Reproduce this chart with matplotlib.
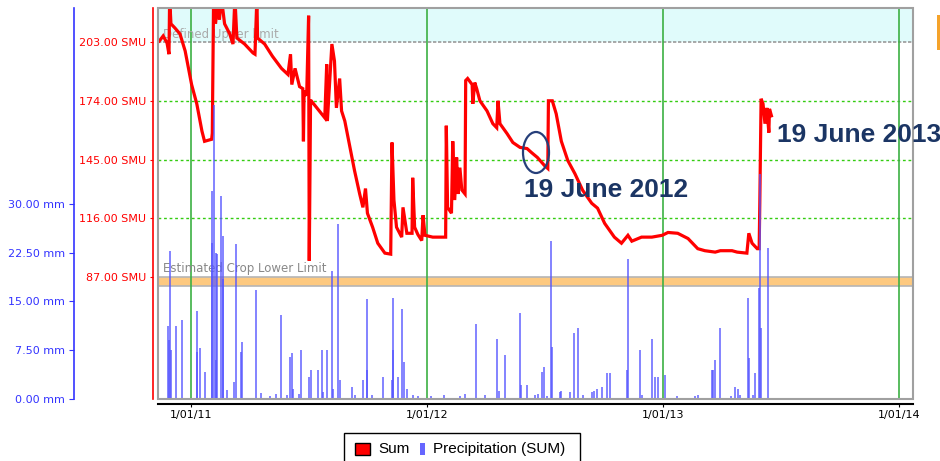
import numpy as np
import matplotlib
matplotlib.use('Agg')
import matplotlib.pyplot as plt
import matplotlib.patches as patches

# soil moisture sum (SMU)
smu_dates = ['2010-11-13', '2010-11-19', '2010-11-25', '2010-11-28', '2010-11-29', '2010-12-01',
             '2010-12-07', '2010-12-15', '2010-12-23', '2011-01-02', '2011-01-10', '2011-01-18',
             '2011-01-22', '2011-02-02', '2011-02-03', '2011-02-05', '2011-02-08', '2011-02-11',
             '2011-02-14', '2011-02-17', '2011-02-22', '2011-03-02', '2011-03-07', '2011-03-10',
             '2011-03-13', '2011-03-25', '2011-04-07', '2011-04-10', '2011-04-13', '2011-04-14',
             '2011-04-25', '2011-05-07', '2011-05-21', '2011-05-31', '2011-06-04', '2011-06-06',
             '2011-06-11', '2011-06-18', '2011-06-23', '2011-06-24', '2011-06-25', '2011-06-29',
             '2011-07-02', '2011-07-03', '2011-07-05', '2011-07-06', '2011-07-22', '2011-07-27',
             '2011-07-30', '2011-07-31', '2011-08-07', '2011-08-11', '2011-08-14', '2011-08-19',
             '2011-08-22', '2011-08-27', '2011-09-04', '2011-09-11', '2011-09-19', '2011-09-24',
             '2011-09-28', '2011-10-01', '2011-10-09', '2011-10-17', '2011-10-28', '2011-11-06',
             '2011-11-08', '2011-11-11', '2011-11-15', '2011-11-23', '2011-11-25', '2011-12-01',
             '2011-12-09', '2011-12-10', '2011-12-13', '2011-12-18', '2011-12-24', '2011-12-26',
             '2011-12-29', '2012-01-10', '2012-01-30', '2012-01-31', '2012-02-02', '2012-02-08',
             '2012-02-10', '2012-02-13', '2012-02-16', '2012-02-18', '2012-02-21', '2012-02-24',
             '2012-02-29', '2012-03-01', '2012-03-04', '2012-03-11', '2012-03-12', '2012-03-15',
             '2012-03-18', '2012-03-23', '2012-04-03', '2012-04-12', '2012-04-18', '2012-04-20',
             '2012-04-23', '2012-05-04', '2012-05-13', '2012-05-24', '2012-06-04', '2012-06-11',
             '2012-06-20', '2012-07-01', '2012-07-06', '2012-07-07', '2012-07-13', '2012-07-19',
             '2012-07-27', '2012-08-06', '2012-08-17', '2012-08-29', '2012-09-12', '2012-09-21',
             '2012-10-02', '2012-10-17', '2012-10-28', '2012-11-07', '2012-11-13', '2012-11-28',
             '2012-12-14', '2012-12-30', '2013-01-08', '2013-01-23', '2013-02-08', '2013-02-23',
             '2013-03-06', '2013-03-22', '2013-03-30', '2013-04-17', '2013-04-25', '2013-05-10',
             '2013-05-13', '2013-05-18', '2013-05-26', '2013-05-29', '2013-05-30', '2013-06-01',
             '2013-06-04', '2013-06-07', '2013-06-10', '2013-06-13', '2013-06-14', '2013-06-17']
smu_values = [203.5, 206, 202.5, 197, 225, 212,
              210, 207, 198.6, 182, 172.5, 159,
              154, 155, 158, 225, 212, 222,
              214, 225, 212, 207, 202, 225,
              205, 202, 197.6, 197, 225, 205,
              202, 196, 190, 187, 197, 182,
              190, 181, 180, 154, 179, 176.5,
              216, 95, 174, 174, 167.6, 165.6,
              192, 164, 202, 193.6, 170.5, 185,
              169, 164, 151, 139.6, 128, 121.4,
              130.7, 118.5, 111.6, 103.7, 98.8, 98.3,
              153.4, 125, 111.6, 106.7, 121.4, 108.6,
              108.6, 136, 111.6, 108, 105, 117.5,
              107.6, 106.7, 106.7, 161.7, 121.4, 118.5,
              154, 125, 146, 128, 141, 130,
              128, 184, 185, 182, 172.5, 183,
              180, 174, 169, 162.7, 160.7, 174,
              162.7, 157.8, 153.4, 151, 150.4, 148.4,
              146, 142, 140.6, 174, 174, 167.6,
              154, 144.5, 138, 129.8, 123.4, 121,
              113.5, 106.7, 103.7, 107.6, 104.7, 106.7,
              106.7, 107.6, 109, 108.6, 106, 101,
              100, 99.3, 100, 100, 99.3, 98.8,
              108.6, 103.7, 101, 101, 123.4, 175,
              172.5, 162.7, 170.5, 158.3, 170, 166.6]

# daily precipitation (mm)
rain_dates = ['2010-11-27', '2010-11-28', '2010-11-30', '2010-12-01', '2010-12-09', '2010-12-18',
              '2011-01-10', '2011-01-11', '2011-01-15', '2011-01-22', '2011-02-02', '2011-02-03',
              '2011-02-06', '2011-02-08', '2011-02-09', '2011-02-11', '2011-02-16', '2011-02-19',
              '2011-02-20', '2011-02-26', '2011-03-08', '2011-03-11', '2011-03-20', '2011-03-21',
              '2011-04-11', '2011-04-19', '2011-05-03', '2011-05-12', '2011-05-21', '2011-05-29',
              '2011-06-03', '2011-06-06', '2011-06-08', '2011-06-17', '2011-06-20', '2011-07-02',
              '2011-07-05', '2011-07-16', '2011-07-22', '2011-07-24', '2011-07-31', '2011-08-07',
              '2011-08-08', '2011-08-16', '2011-08-19', '2011-09-07', '2011-09-11', '2011-09-24',
              '2011-09-30', '2011-10-01', '2011-10-08', '2011-10-25', '2011-11-08', '2011-11-09',
              '2011-11-10', '2011-11-18', '2011-11-23', '2011-11-26', '2011-12-01', '2011-12-10',
              '2011-12-18', '2012-01-08', '2012-01-28', '2012-02-21', '2012-02-29', '2012-03-17',
              '2012-03-31', '2012-04-18', '2012-04-21', '2012-05-01', '2012-05-24', '2012-05-26',
              '2012-06-04', '2012-06-16', '2012-06-21', '2012-06-27', '2012-06-30', '2012-07-05',
              '2012-07-11', '2012-07-12', '2012-07-25', '2012-07-27', '2012-08-09', '2012-08-15',
              '2012-08-21', '2012-08-29', '2012-09-12', '2012-09-15', '2012-09-20', '2012-09-28',
              '2012-10-05', '2012-10-11', '2012-11-05', '2012-11-07', '2012-11-25', '2012-11-28',
              '2012-12-14', '2012-12-19', '2012-12-23', '2013-01-03', '2013-01-22', '2013-02-19',
              '2013-02-23', '2013-03-17', '2013-03-19', '2013-03-22', '2013-03-30', '2013-04-16',
              '2013-04-22', '2013-04-27', '2013-04-30', '2013-05-12', '2013-05-14', '2013-05-20',
              '2013-05-23', '2013-05-28', '2013-05-31', '2013-06-01', '2013-06-12']
rain_mm = [11.3, 9, 22.8, 7.5, 11.3, 12.1,
           13.6, 7.2, 7.8, 4.1, 24, 32,
           45.3, 6, 22.5, 22.3, 31.2, 25,
           18.5, 1.4, 2.6, 23.9, 7.2, 8.7,
           16.7, 0.9, 0.5, 0.8, 12.9, 0.6,
           6.4, 7, 1.5, 0.7, 7.5, 3.4,
           4.4, 4.4, 7.5, 1, 7.5, 19.7,
           1.5, 26.9, 2.9, 1.8, 0.6, 2.9,
           15.4, 4.4, 0.6, 3.4, 2.9, 15.6,
           7.5, 3.4, 13.9, 5.7, 1.5, 0.6,
           0.4, 0.4, 0.6, 0.4, 0.8, 11.6,
           0.6, 9.3, 1.2, 6.7, 13.2, 2.2,
           2.1, 0.6, 0.8, 4.1, 4.9, 0.4,
           24.3, 8, 1, 1.2, 1, 10.1,
           10.9, 0.6, 1, 1.3, 1.5, 1.8,
           4, 4, 4.4, 21.6, 7.5, 0.6,
           9.3, 3.4, 3.4, 3.7, 0.4, 0.4,
           0.6, 4.4, 4.4, 6, 10.9, 0.4,
           1.8, 1.5, 0.6, 15.6, 6.3, 0.6,
           4, 17.1, 34.6, 10.9, 23.3]

year_ticks = ['2011-01-01', '2012-01-01', '2013-01-01', '2014-01-01']
year_labels = ['1/01/11', '1/01/12', '1/01/13', '1/01/14']
smu_ticks = [87, 116, 145, 174, 203]
mm_ticks = [0, 7.5, 15, 22.5, 30]
upper_limit = 203
lower_band = (82.5, 87)

W, H = 940, 461
PT = 0.72  # points per pixel at dpi 100
fig = plt.figure(figsize=(W / 100, H / 100), dpi=100)


def fx(px):
    return px / W


def fy(py):
    return 1 - py / H


ax = fig.add_axes([fx(158), fy(399), fx(913) - fx(158), fy(8) - fy(399)])
axp = ax.twinx()

d_smu = np.array(smu_dates, dtype='datetime64[D]')
d_rain = np.array(rain_dates, dtype='datetime64[D]')
d_years = np.array(year_ticks, dtype='datetime64[D]')

# bands and grid
ax.axhspan(upper_limit, 300, facecolor='#e0fbfb', edgecolor='none', zorder=0)
ax.axhline(upper_limit, color='#9a9a9a', ls=(0, (2, 1)), lw=1.2, zorder=1)
ax.axhspan(lower_band[0], lower_band[1], facecolor='#fdc980', edgecolor='#b5b5b5', lw=1.2, zorder=1)
for v in smu_ticks[1:4]:
    ax.axhline(v, color='#33cc11', ls=(0, (2, 2)), lw=1, zorder=1)
for d in d_years:
    ax.axvline(d, color='#3cb043', lw=1.2, zorder=1)

ax.text(0.006, 0.931, 'Defined Upper limit', transform=ax.transAxes, fontsize=8.5,
        color='#aaaaaa', va='center', zorder=2)
ax.text(0.006, 0.335, 'Estimated Crop Lower Limit', transform=ax.transAxes, fontsize=8.5,
        color='#888888', va='center', zorder=2)

ax.plot(d_smu, smu_values, color='#ff0000', lw=2.3, zorder=3, solid_joinstyle='miter')
axp.vlines(d_rain, 0, rain_mm, color='#5555ff', lw=1.2, alpha=0.85)

ax.set_xlim(np.datetime64('2010-11-11'), np.datetime64('2014-01-22'))
ax.set_ylim(26.8, 219.8)
axp.set_ylim(0, 60.15)

# red SMU axis
ax.set_yticks(smu_ticks)
ax.set_yticklabels([f'{v:.2f} SMU' for v in smu_ticks])
ax.tick_params(axis='y', colors='#ff0000', labelsize=8, length=3 * PT, pad=3)
ax.spines['left'].set_position(('outward', 5 * PT))
ax.spines['left'].set_color('#ff0000')
ax.spines['left'].set_linewidth(1.2)
ax.spines['right'].set_visible(False)
ax.spines['top'].set_visible(False)
ax.spines['bottom'].set_position(('outward', 5 * PT))
ax.spines['bottom'].set_linewidth(1.5)

ax.set_xticks(d_years)
ax.set_xticklabels(year_labels)
ax.tick_params(axis='x', labelsize=8, length=3 * PT, pad=2)

# blue mm axis on the far left
axp.yaxis.tick_left()
axp.yaxis.set_label_position('left')
axp.spines['left'].set_visible(True)
axp.spines['left'].set_position(('outward', 84 * PT))
axp.spines['left'].set_color('#3333ff')
axp.spines['left'].set_linewidth(1.2)
for s in ['right', 'top', 'bottom']:
    axp.spines[s].set_visible(False)
axp.set_yticks(mm_ticks)
axp.set_yticklabels([f'{v:.2f} mm' for v in mm_ticks])
axp.tick_params(axis='y', colors='#3333ff', labelsize=8, length=5 * PT, pad=3)

# grey frame of the plot area
axp.add_patch(patches.Rectangle((0, 0), 1, 1, transform=ax.transAxes, fill=False,
                                edgecolor='#a0a0a0', lw=1.5, clip_on=False, zorder=5))

# annotations
fig.text(fx(524), fy(197), '19 June 2012', fontsize=19, fontweight='bold',
         family='Liberation Sans', color='#1b3564', va='baseline')
fig.text(fx(777), fy(142), '19 June 2013', fontsize=19, fontweight='bold',
         family='Liberation Sans', color='#1b3564', va='baseline')
fig.add_artist(patches.Ellipse((fx(536), fy(152.5)), 26 / W, 41 / H, transform=fig.transFigure,
                               fill=False, edgecolor='#263f7a', lw=1.6))
fig.add_artist(patches.Rectangle((fx(937), fy(50)), 3 / W, 35 / H, transform=fig.transFigure,
                                 facecolor='#f5a32a', edgecolor='none'))

# legend
fig.add_artist(patches.Rectangle((fx(344), fy(462)), 236 / W, 29 / H, transform=fig.transFigure,
                                 facecolor='white', edgecolor='black', lw=1))
fig.add_artist(patches.Rectangle((fx(355), fy(455)), 15 / W, 12 / H, transform=fig.transFigure,
                                 facecolor='#ff0000', edgecolor='black', lw=1))
fig.text(fx(378), fy(449), 'Sum', fontsize=11, family='Liberation Sans', va='center')
fig.add_artist(patches.Rectangle((fx(420), fy(455)), 5 / W, 12 / H, transform=fig.transFigure,
                                 facecolor='#6666ff', edgecolor='none'))
fig.text(fx(433), fy(449), 'Precipitation (SUM)', fontsize=11, family='Liberation Sans', va='center')

fig.savefig('out.png', dpi=100)
